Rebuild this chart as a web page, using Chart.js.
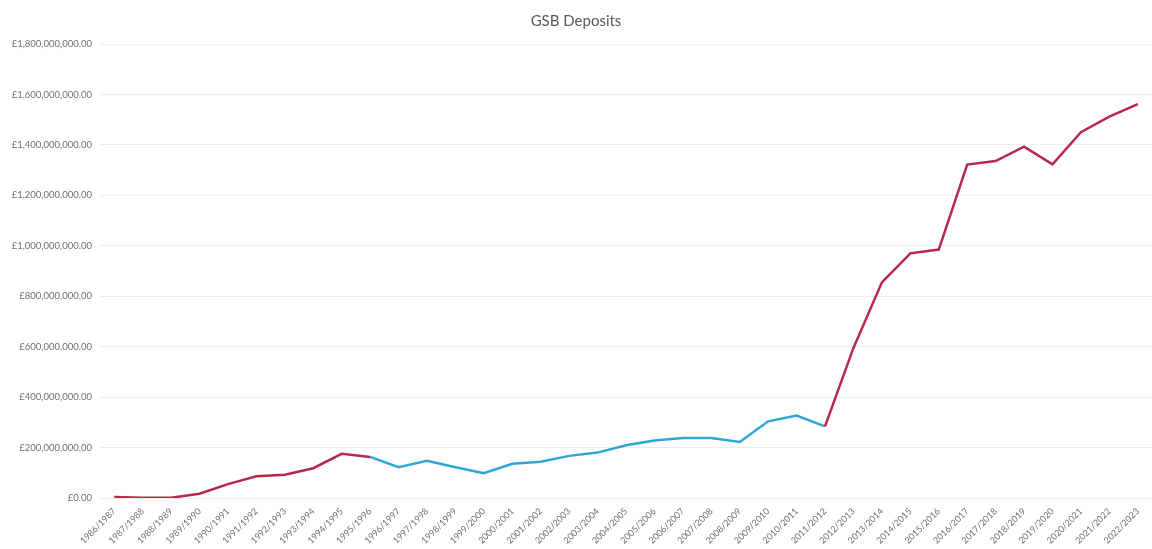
<!DOCTYPE html>
<html>
<head>
<meta charset="utf-8">
<script src="https://cdn.jsdelivr.net/npm/chart.js@4/dist/chart.umd.min.js"></script>
<style>
  html, body { margin: 0; padding: 0; background: #fff; }
  #wrap { width: 1152px; height: 549px; position: relative; }
</style>
</head>
<body>
<div id="wrap"><canvas id="chart"></canvas></div>
<script>
// financial years on the x axis
const years = [
  "1986/1987", "1987/1988", "1988/1989", "1989/1990", "1990/1991", "1991/1992",
  "1992/1993", "1993/1994", "1994/1995", "1995/1996", "1996/1997", "1997/1998",
  "1998/1999", "1999/2000", "2000/2001", "2001/2002", "2002/2003", "2003/2004",
  "2004/2005", "2005/2006", "2006/2007", "2007/2008", "2008/2009", "2009/2010",
  "2010/2011", "2011/2012", "2012/2013", "2013/2014", "2014/2015", "2015/2016",
  "2016/2017", "2017/2018", "2018/2019", "2019/2020", "2020/2021", "2021/2022",
  "2022/2023"
];

// deposits in pounds
const deposits = [
  4000000, 1000000, 1000000, 17000000, 55000000, 86000000,
  92000000, 118000000, 175000000, 163000000, 122000000, 148000000,
  122000000, 98000000, 136000000, 144000000, 167000000, 180000000,
  209000000, 228000000, 238000000, 238000000, 222000000, 304000000,
  327000000, 284000000, 595000000, 855000000, 970000000, 985000000,
  1322000000, 1336000000, 1393000000, 1323000000, 1450000000, 1512000000,
  1562000000
];

// years from 1995/1996 to 2011/2012 are drawn in blue
const blueStart = "1995/1996";
const blueEnd = "2011/2012";

const RED = "#B8284B";
const BLUE = "#2FA6D6";
const FONT = "Lato, 'Open Sans', sans-serif";

const i0 = years.indexOf(blueStart);
const i1 = years.indexOf(blueEnd);

const money = v => "£" + v.toLocaleString("en-GB", { minimumFractionDigits: 2, maximumFractionDigits: 2 });

new Chart(document.getElementById("chart"), {
  type: "line",
  data: {
    labels: years,
    datasets: [{
      label: "GSB Deposits",
      data: deposits,
      borderColor: RED,
      borderWidth: 2.5,
      pointRadius: 0,
      tension: 0,
      segment: {
        borderColor: c => (c.p0DataIndex >= i0 && c.p0DataIndex < i1) ? BLUE : RED
      }
    }]
  },
  options: {
    responsive: true,
    maintainAspectRatio: false,
    animation: false,
    layout: { padding: { left: 0, right: 0, top: 0, bottom: 0 } },
    plugins: {
      legend: { display: false },
      tooltip: { enabled: false },
      title: {
        display: true,
        text: "GSB Deposits",
        color: "#595959",
        font: { family: FONT, size: 15, weight: "normal" },
        padding: { top: 12, bottom: 14 }
      }
    },
    scales: {
      x: {
        offset: true,
        grid: { display: false },
        border: { display: false },
        ticks: {
          color: "#707070",
          font: { family: FONT, size: 9 },
          maxRotation: 45,
          minRotation: 45,
          autoSkip: false,
          padding: 0
        },
        afterFit: s => { s.height = 51; }
      },
      y: {
        min: 0,
        max: 1800000000,
        grid: { color: "#ececec", lineWidth: 1, drawTicks: false },
        border: { display: false },
        ticks: {
          stepSize: 200000000,
          color: "#707070",
          font: { family: FONT, size: 9.5 },
          padding: 8,
          callback: v => money(v)
        },
        afterFit: s => { s.width = 100; }
      }
    }
  }
});
</script>
</body>
</html>
